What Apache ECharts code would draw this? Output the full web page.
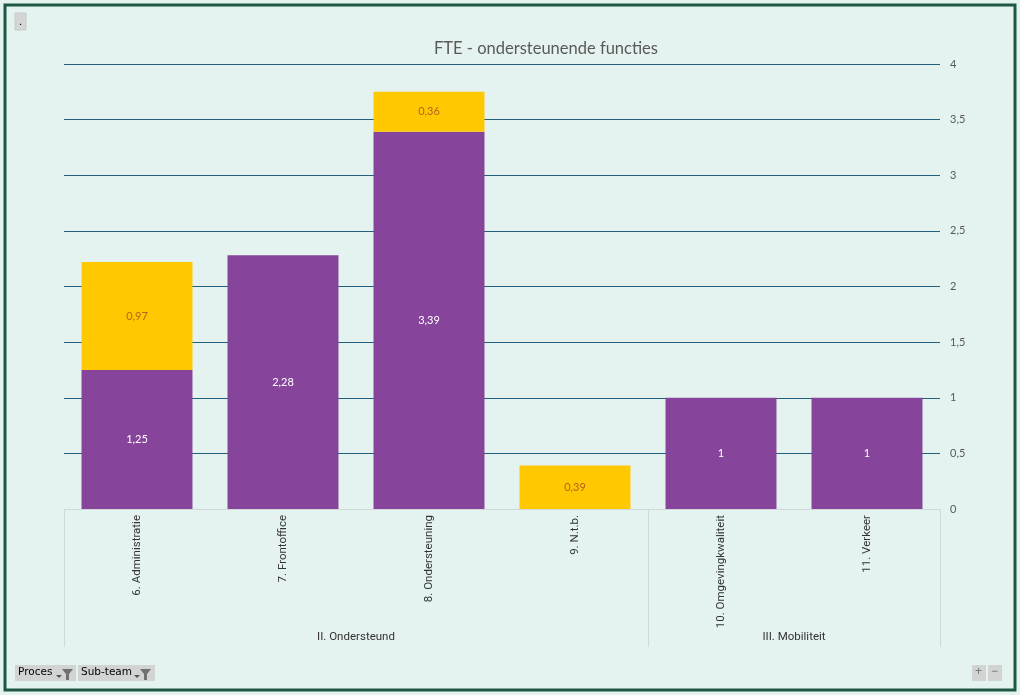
<!DOCTYPE html>
<html><head><meta charset="utf-8">
<script src="https://cdn.jsdelivr.net/npm/echarts@6/dist/echarts.min.js"></script>
<style>html,body{margin:0;padding:0;background:#fff}#c{width:1020px;height:695px}</style>
</head><body><div id="c"></div>
<script>
const categories = ['6. Administratie','7. Frontoffice','8. Ondersteuning','9. N.t.b.','10. Omgevingkwaliteit','11. Verkeer'];
const groups = ['II. Ondersteund','III. Mobiliteit'];
const groupCenters = [2, 5];
const groupBounds = [0, 4, 6];
const purpleValues = [1.25, 2.28, 3.39, null, 1, 1];
const yellowValues = [0.97, null, 0.36, 0.39, null, null];
const yTicks = [0, 0.5, 1, 1.5, 2, 2.5, 3, 3.5, 4];
const titleText = 'FTE - ondersteunende functies';
const filterButtons = ['Proces', 'Sub-team'];

const fmt = v => String(v).replace('.', ',');
const font = '"Liberation Sans Narrow", "Roboto", sans-serif';
const chart = echarts.init(document.getElementById('c'), null, {renderer:'canvas'});

chart.setOption({
  backgroundColor: '#e5f3f0',
  animation: false,
  title: { text: titleText, left: 429, top: 35, textStyle: { fontFamily: 'Lato, "Open Sans", sans-serif', fontSize: 16.5, fontWeight: 'normal', color: '#595959' } },
  grid: { left: 64, right: 80, top: 64, bottom: 186 },
  xAxis: [
    { type: 'category', data: categories, position: 'bottom',
      axisLine: { show: true, lineStyle: { color: '#d0d9d8' } },
      axisTick: { show: false },
      axisLabel: { rotate: 90, margin: 6, fontFamily: font, fontSize: 11.5, color: '#333' } },
    { type: 'value', min: 0, max: 6, position: 'bottom', offset: 138,
      axisLine: { show: false }, splitLine: { show: false },
      axisTick: { show: true, inside: true, length: 138, customValues: groupBounds, lineStyle: { color: '#d0d9d8' } },
      axisLabel: { show: true, inside: true, margin: 4, customValues: groupCenters, fontFamily: font, fontSize: 11.5, color: '#333',
        formatter: v => groups[groupCenters.indexOf(v)] || '' } }
  ],
  yAxis: { type: 'value', position: 'right', min: 0, max: 4, interval: 0.5,
    axisLine: { show: false }, axisTick: { show: false },
    splitLine: { lineStyle: { color: '#22607e', width: 1 } },
    axisLabel: { margin: 10, fontFamily: 'Lato, sans-serif', fontSize: 11, color: '#595959', formatter: v => fmt(v) } },
  series: [
    { type: 'bar', stack: 'a', data: purpleValues, barWidth: '76%', xAxisIndex: 0,
      itemStyle: { color: '#86449a' },
      label: { show: true, position: 'inside', color: '#ffffff', fontFamily: 'Lato, sans-serif', fontSize: 11, formatter: p => fmt(p.value) } },
    { type: 'bar', stack: 'a', data: yellowValues, barWidth: '76%', xAxisIndex: 0,
      itemStyle: { color: '#ffc800' },
      label: { show: true, position: 'inside', color: '#b8611e', fontFamily: 'Lato, sans-serif', fontSize: 11, formatter: p => fmt(p.value) } }
  ],
  graphic: [
    { type: 'rect', shape: { x: 5, y: 5, width: 1010, height: 685 }, style: { fill: null, stroke: '#1c5843', lineWidth: 3 }, silent: true },
    { type: 'rect', shape: { x: 15, y: 13, width: 11, height: 17 }, style: { fill: '#d4d6d6', stroke: '#c8caca' } },
    { type: 'text', x: 19, y: 16, style: { text: '.', fill: '#000', fontSize: 11 } },
    { type: 'rect', shape: { x: 15, y: 665, width: 61, height: 16 }, style: { fill: '#d2d4d4' } },
    { type: 'text', x: 18, y: 667, style: { text: filterButtons[0], fill: '#000', fontFamily: 'DejaVu Sans', fontSize: 10.5 } },
    { type: 'polygon', shape: { points: [[56,675],[62,675],[59,678]] }, style: { fill: '#555' } },
    { type: 'polygon', shape: { points: [[62,669],[73,669],[69,674],[69,680],[66,680],[66,674]] }, style: { fill: '#707070' } },
    { type: 'rect', shape: { x: 78, y: 665, width: 77, height: 16 }, style: { fill: '#d2d4d4' } },
    { type: 'text', x: 81, y: 667, style: { text: filterButtons[1], fill: '#000', fontFamily: 'DejaVu Sans', fontSize: 10.5 } },
    { type: 'polygon', shape: { points: [[134,675],[140,675],[137,678]] }, style: { fill: '#555' } },
    { type: 'polygon', shape: { points: [[140,669],[151,669],[147,674],[147,680],[144,680],[144,674]] }, style: { fill: '#707070' } },
    { type: 'rect', shape: { x: 972, y: 665, width: 14, height: 16 }, style: { fill: '#d2d4d4' } },
    { type: 'text', x: 975, y: 666, style: { text: '+', fill: '#777', fontSize: 12 } },
    { type: 'rect', shape: { x: 988, y: 665, width: 14, height: 16 }, style: { fill: '#d2d4d4' } },
    { type: 'text', x: 991, y: 666, style: { text: '\u2212', fill: '#777', fontSize: 12 } }
  ]
});
</script></body></html>
